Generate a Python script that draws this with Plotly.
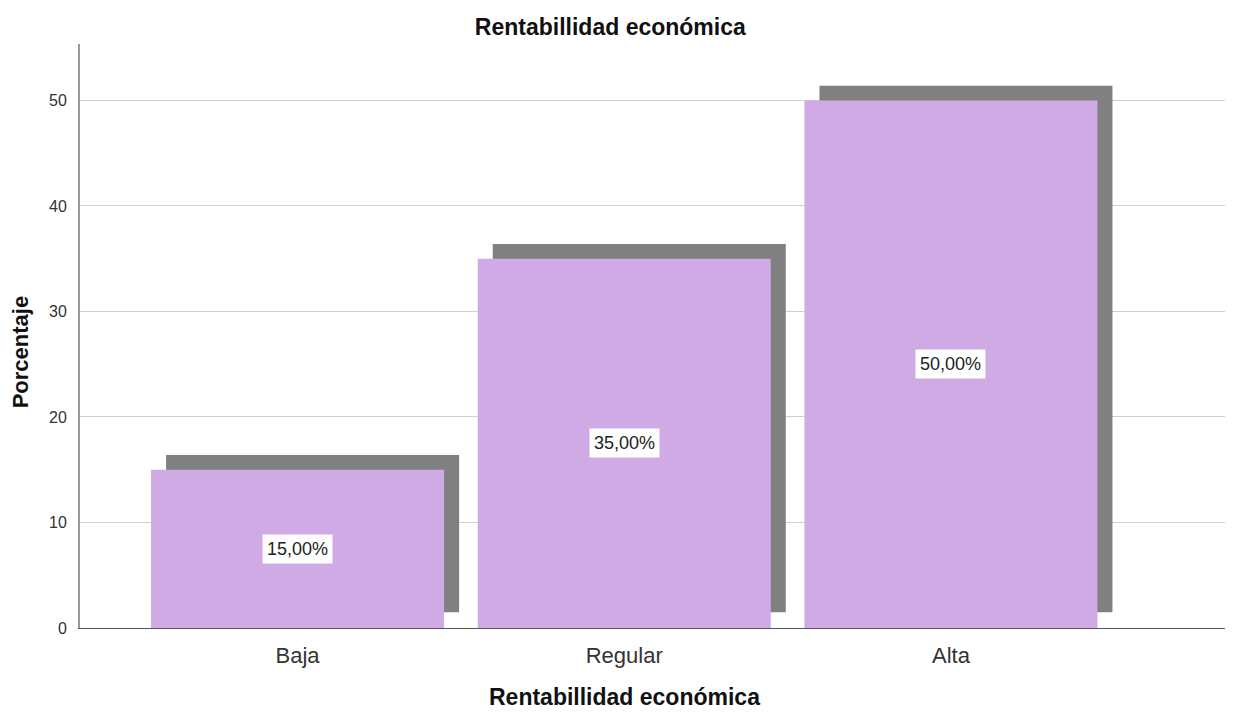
import plotly.graph_objects as go

categories = ["Baja", "Regular", "Alta"]
values = [15.0, 35.0, 50.0]
labels = ["15,00%", "35,00%", "50,00%"]
y_ticks = [0, 10, 20, 30, 40, 50]

x_pos = list(range(len(categories)))
bar_w = 0.897
sh_dx = 0.046
sh_base = 1.5
sh_top_extra = 1.4

FONT = "Liberation Sans, Arial"

fig = go.Figure()
fig.add_trace(go.Bar(
    x=x_pos, y=[v + sh_top_extra - sh_base for v in values], base=[sh_base] * 3,
    width=bar_w, offset=-bar_w / 2 + sh_dx,
    marker=dict(color="#808080", line=dict(width=0)), hoverinfo="skip", showlegend=False))
fig.add_trace(go.Bar(
    x=x_pos, y=values, width=bar_w, offset=-bar_w / 2,
    marker=dict(color="#D0AAE4", line=dict(width=0)), showlegend=False))

for i, (v, t) in enumerate(zip(values, labels)):
    fig.add_annotation(x=i, y=v / 2, text=t, showarrow=False,
                       font=dict(family=FONT, size=18, color="#222"),
                       bgcolor="white", borderpad=4, xref="x", yref="y")

fig.add_annotation(text="<b>Rentabillidad económica</b>", xref="paper", yref="paper",
                   x=0.4755, y=-0.118, xanchor="center", yanchor="middle", showarrow=False,
                   font=dict(family=FONT, size=23, color="#111"))
fig.add_annotation(text="<b>Porcentaje</b>", xref="paper", yref="paper",
                   x=-0.0524, y=0.472, textangle=-90, xanchor="center", yanchor="middle",
                   showarrow=False,
                   font=dict(family=FONT, size=22, color="#111"))

fig.update_layout(
    width=1233, height=713,
    margin=dict(l=80, r=8, t=44, b=85),
    paper_bgcolor="white", plot_bgcolor="white",
    barmode="overlay",
    title=dict(text="<b>Rentabillidad económica</b>", x=0.495, xref="container",
               y=0.962, yref="container", xanchor="center", yanchor="middle",
               font=dict(family=FONT, size=23, color="#111")),
    xaxis=dict(range=[-0.666, 2.839], tickvals=x_pos, ticktext=categories,
               showgrid=False, zeroline=False, showline=True, linecolor="#555", linewidth=1,
               ticks="", ticklabelstandoff=8,
               tickfont=dict(family=FONT, size=22, color="#333")),
    yaxis=dict(range=[0, 55.35], tickvals=y_ticks, showgrid=True, gridcolor="#CFCFCF",
               gridwidth=1, zeroline=False, showline=True, linecolor="#999", linewidth=2,
               ticks="", ticklabelstandoff=8,
               tickfont=dict(family=FONT, size=16, color="#333")),
)

fig.write_html("out.html")
